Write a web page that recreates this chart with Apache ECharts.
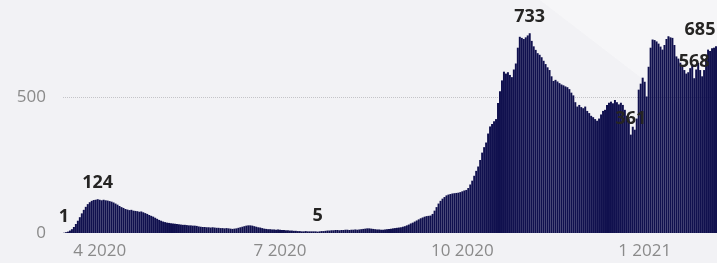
<!DOCTYPE html>
<html>
<head>
<meta charset="utf-8">
<script src="https://cdn.jsdelivr.net/npm/echarts@6/dist/echarts.min.js"></script>
<style>
  html, body { margin: 0; padding: 0; background: #f2f2f5; }
  #main { width: 717px; height: 263px; }
</style>
</head>
<body>
<div id="main"></div>
<script>
// 每日数据，从 2020-03-14 开始
const startDate = '2020-03-14';
const dailyValues = [
  1, 3, 5, 9, 14, 22, 33, 45, 58, 72,
  85, 96, 106, 113, 118, 121, 122, 124, 122, 120,
  122, 120, 119, 117, 115, 112, 108, 104, 99, 95,
  92, 88, 86, 84, 85, 82, 81, 80, 78, 79,
  76, 73, 70, 66, 63, 60, 56, 52, 48, 45,
  42, 40, 38, 37, 36, 35, 34, 33, 32, 31,
  30, 30, 29, 28, 28, 27, 27, 26, 24, 23,
  22, 22, 21, 21, 20, 21, 20, 19, 19, 18,
  18, 17, 18, 17, 16, 15, 16, 17, 19, 21,
  23, 25, 27, 28, 28, 27, 25, 23, 21, 20,
  18, 16, 15, 14, 14, 13, 13, 12, 13, 12,
  11, 11, 10, 10, 9, 9, 8, 8, 7, 7,
  6, 6, 7, 6, 6, 6, 6, 6, 5, 6,
  7, 7, 8, 9, 9, 10, 10, 11, 11, 10,
  11, 11, 12, 12, 11, 12, 12, 13, 12, 13,
  14, 15, 16, 17, 17, 16, 15, 14, 13, 13,
  12, 12, 13, 14, 15, 16, 17, 18, 19, 20,
  21, 23, 25, 28, 31, 35, 38, 42, 46, 50,
  54, 57, 60, 62, 63, 64, 70, 82, 95, 108,
  118, 126, 132, 138, 141, 143, 145, 146, 147, 148,
  150, 153, 156, 158, 165, 178, 192, 210, 228, 244,
  268, 295, 315, 332, 365, 391, 400, 410, 418, 477,
  520, 560, 592, 585, 590, 580, 572, 600, 622, 680,
  720, 716, 712, 718, 725, 733, 705, 685, 672, 660,
  654, 645, 632, 620, 608, 598, 575, 558, 562, 556,
  550, 545, 542, 538, 535, 528, 515, 505, 480, 464,
  470, 462, 458, 464, 448, 440, 430, 425, 418, 412,
  420, 435, 448, 452, 470, 478, 482, 476, 488, 480,
  472, 478, 470, 452, 430, 418, 361, 390, 379, 420,
  526, 548, 570, 555, 501, 610, 680, 710, 708, 703,
  695, 684, 673, 690, 712, 722, 718, 716, 690, 648,
  640, 625, 611, 598, 585, 590, 605, 620, 568, 600,
  624, 598, 575, 598, 640, 673, 668, 678, 680, 685
];
// 显示数值标签的位置（下标）
const labelIndexes = [0, 17, 128, 235, 286, 318, 329];
// x轴刻度
const tickDates = ['2020-04-01', '2020-07-01', '2020-10-01', '2021-01-01'];
const tickLabels = ['4 2020', '7 2020', '10 2020', '1 2021'];

// 生成日期
const dates = [];
const d0 = new Date(startDate + 'T00:00:00Z');
for (let i = 0; i < dailyValues.length; i++) {
  const d = new Date(d0.getTime() + i * 86400000);
  dates.push(d.toISOString().slice(0, 10));
}

const seriesData = dailyValues.map((v, i) => {
  if (labelIndexes.indexOf(i) < 0) return v;
  const item = { value: v, label: { show: true } };
  // 最后一个标签往左挪，不然出界
  if (i === dailyValues.length - 1) item.label.offset = [-16, 0];
  return item;
});

const myChart = echarts.init(document.getElementById('main'));
myChart.setOption({
  backgroundColor: '#f2f2f5',
  animation: false,
  // 右上角的浅色斜块
  graphic: [
    {
      type: 'polygon',
      z: 0,
      silent: true,
      shape: { points: [[540, 0], [717, 0], [717, 136]] },
      style: { fill: 'rgba(255,255,255,0.35)' }
    }
  ],
  grid: {
    left: 63,
    right: 0,
    top: 15,
    bottom: 30
  },
  xAxis: {
    type: 'category',
    data: dates,
    axisLine: { show: false },
    axisTick: { show: false },
    axisLabel: {
      interval: (idx, val) => tickDates.indexOf(val) >= 0,
      formatter: (val) => tickLabels[tickDates.indexOf(val)],
      color: '#8a8a8a',
      fontFamily: 'Open Sans',
      fontSize: 17,
      margin: 10
    }
  },
  yAxis: {
    type: 'value',
    min: 0,
    max: 800,
    interval: 500,
    axisLabel: {
      color: '#8a8a8a',
      fontFamily: 'Open Sans',
      fontSize: 17,
      margin: 17,
      showMaxLabel: false
    },
    splitLine: {
      showMinLine: false,
      showMaxLine: false,
      lineStyle: { type: 'dotted', color: '#c4c4c8', width: 1 }
    }
  },
  series: [
    {
      type: 'bar',
      z: 2,
      data: seriesData,
      barCategoryGap: '0%',
      itemStyle: { color: '#10104e' },
      label: {
        position: 'top',
        distance: 7,
        color: '#252423',
        fontFamily: 'Open Sans',
        fontWeight: 'bold',
        fontSize: 18
      }
    }
  ]
});
</script>
</body>
</html>
